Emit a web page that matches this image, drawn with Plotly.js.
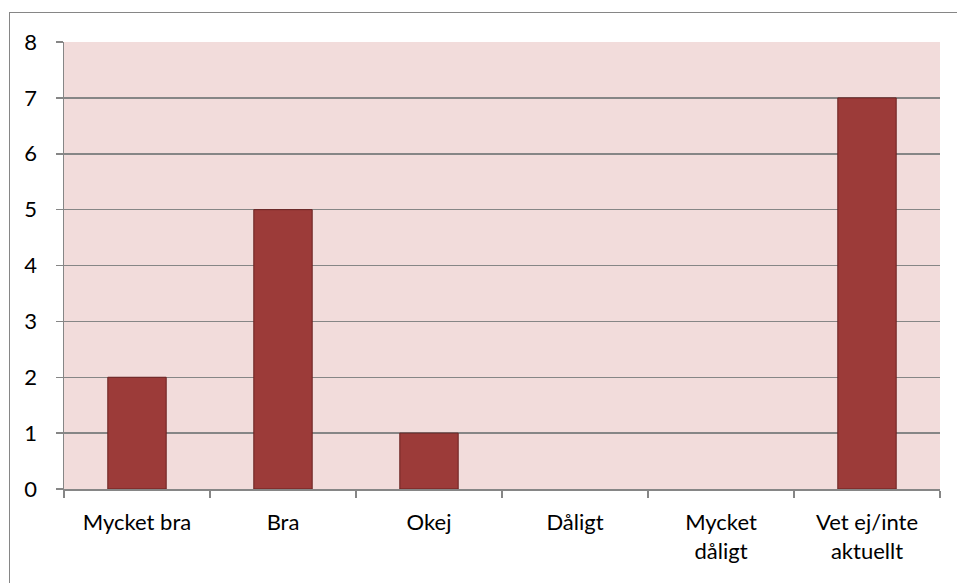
<!DOCTYPE html>
<html>
<head>
<meta charset="utf-8">
<script src="https://cdn.plot.ly/plotly-3.0.1.min.js"></script>
<style>
html,body{margin:0;padding:0;background:#fff;overflow:hidden;}
#frame{position:absolute;left:9px;top:12px;width:1000px;height:1000px;border:1.5px solid #868686;box-sizing:border-box;pointer-events:none;z-index:5;}
#chart{position:absolute;left:0;top:0;width:957px;height:583px;}
</style>
</head>
<body>
<div id="chart"></div>
<div id="frame"></div>
<script>
const categories = ["Mycket bra", "Bra", "Okej", "Dåligt", "Mycket<br>dåligt", "Vet ej/inte<br>aktuellt"];
const values = [2, 5, 1, 0, 0, 7];
const yTicks = [0, 1, 2, 3, 4, 5, 6, 7, 8];

const trace = {
  type: 'bar',
  x: categories,
  y: values,
  width: 0.4,
  marker: {color: '#9C3B39', line: {color: '#6A2220', width: values.map(v => v > 0 ? 1 : 0)}},
  hoverinfo: 'x+y'
};

const layout = {
  width: 957, height: 583,
  margin: {l: 64, r: 17, t: 42, b: 94},
  paper_bgcolor: '#ffffff',
  plot_bgcolor: '#F2DCDB',
  showlegend: false,
  font: {family: 'Lato, Carlito, sans-serif', size: 22, color: '#000'},
  xaxis: {
    type: 'category',
    showgrid: false,
    showline: true, linecolor: '#868686', linewidth: 1.5,
    ticks: 'outside', tickson: 'boundaries', ticklen: 7, tickcolor: '#868686', tickwidth: 1.5,
    ticklabelstandoff: 13,
    tickfont: {size: 22}
  },
  yaxis: {
    range: [0, 8],
    tickvals: yTicks,
    showgrid: true, gridcolor: '#868686', gridwidth: 1.5,
    showline: true, linecolor: '#868686', linewidth: 1.5,
    zeroline: false,
    ticks: 'outside', ticklen: 7, tickcolor: '#868686', tickwidth: 1.5,
    ticklabelstandoff: 14,
    tickfont: {size: 22}
  },
  bargap: 0.6
};

Plotly.newPlot('chart', [trace], layout, {displayModeBar: false, staticPlot: true});
</script>
</body>
</html>
